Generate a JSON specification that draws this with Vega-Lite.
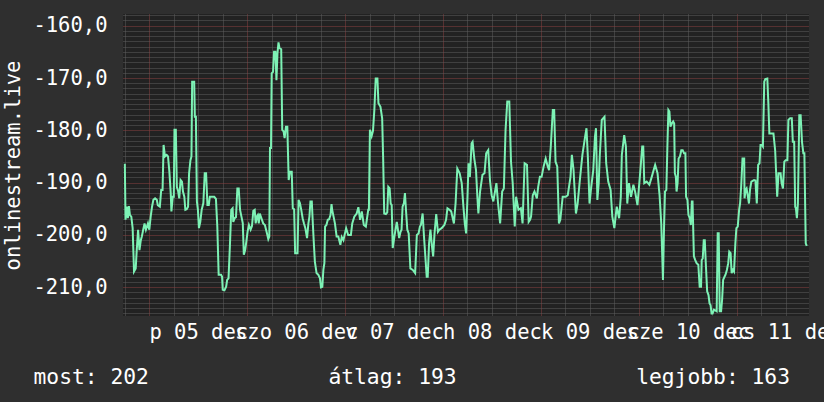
{
"$schema": "https://vega.github.io/schema/vega-lite/v6.json",
"width": 686, "height": 302,
"autosize": {"type": "none"},
"padding": {"left": 123, "top": 14, "right": 15, "bottom": 86},
"background": "#2f2f2f",
"config": {
  "view": {"fill": "#222222", "stroke": null},
  "axis": {"labelFont": "DejaVu Sans Mono", "titleFont": "DejaVu Sans Mono", "labelColor": "#ffffff", "titleColor": "#ffffff", "titleFontWeight": "normal", "gridColor": "#5f5f5f", "gridDash": [1, 1], "ticks": false, "domain": false, "labelOverlap": false, "labelFlush": false}
},
"data": {"values": [
{"t":"2025-12-04T18:00Z","v":-186.4},{"t":"2025-12-04T18:10Z","v":-197.1},{"t":"2025-12-04T18:30Z","v":-194.6},{"t":"2025-12-04T18:45Z","v":-196.8},{"t":"2025-12-04T19:00Z","v":-194.5},{"t":"2025-12-04T19:15Z","v":-196.2},{"t":"2025-12-04T19:35Z","v":-196.5},{"t":"2025-12-04T19:55Z","v":-198.7},{"t":"2025-12-04T20:15Z","v":-207.0},{"t":"2025-12-04T20:40Z","v":-206.4},{"t":"2025-12-04T20:55Z","v":-202.9},{"t":"2025-12-04T21:15Z","v":-199.0},{"t":"2025-12-04T21:35Z","v":-202.9},{"t":"2025-12-04T21:55Z","v":-201.0},{"t":"2025-12-04T22:10Z","v":-200.3},{"t":"2025-12-04T22:30Z","v":-199.0},{"t":"2025-12-04T22:50Z","v":-197.8},{"t":"2025-12-04T23:10Z","v":-199.0},{"t":"2025-12-04T23:40Z","v":-197.8},
{"t":"2025-12-05T00:00Z","v":-199.0},{"t":"2025-12-05T00:20Z","v":-196.5},{"t":"2025-12-05T00:40Z","v":-194.6},{"t":"2025-12-05T01:00Z","v":-193.3},{"t":"2025-12-05T01:25Z","v":-193.0},{"t":"2025-12-05T01:50Z","v":-193.3},{"t":"2025-12-05T02:05Z","v":-194.3},{"t":"2025-12-05T02:35Z","v":-194.6},{"t":"2025-12-05T02:55Z","v":-191.4},{"t":"2025-12-05T03:15Z","v":-191.4},{"t":"2025-12-05T03:30Z","v":-182.8},{"t":"2025-12-05T03:50Z","v":-185.0},{"t":"2025-12-05T04:15Z","v":-184.7},{"t":"2025-12-05T04:35Z","v":-185.0},{"t":"2025-12-05T04:55Z","v":-187.9},{"t":"2025-12-05T05:15Z","v":-192.0},{"t":"2025-12-05T05:25Z","v":-195.5},{"t":"2025-12-05T05:45Z","v":-192.7},{"t":"2025-12-05T06:00Z","v":-192.7},{"t":"2025-12-05T06:10Z","v":-179.9},{"t":"2025-12-05T06:30Z","v":-179.9},{"t":"2025-12-05T06:45Z","v":-190.8},{"t":"2025-12-05T07:05Z","v":-191.7},{"t":"2025-12-05T07:20Z","v":-193.0},{"t":"2025-12-05T07:40Z","v":-189.5},{"t":"2025-12-05T08:00Z","v":-189.8},{"t":"2025-12-05T08:15Z","v":-191.7},{"t":"2025-12-05T08:35Z","v":-192.7},{"t":"2025-12-05T08:50Z","v":-195.2},{"t":"2025-12-05T09:10Z","v":-195.1},{"t":"2025-12-05T09:30Z","v":-194.6},{"t":"2025-12-05T09:45Z","v":-188.2},{"t":"2025-12-05T10:05Z","v":-185.7},{"t":"2025-12-05T10:20Z","v":-185.0},{"t":"2025-12-05T10:30Z","v":-170.7},{"t":"2025-12-05T11:00Z","v":-170.7},{"t":"2025-12-05T11:10Z","v":-177.4},{"t":"2025-12-05T11:25Z","v":-177.4},{"t":"2025-12-05T11:40Z","v":-193.6},{"t":"2025-12-05T11:55Z","v":-195.2},{"t":"2025-12-05T12:10Z","v":-198.7},{"t":"2025-12-05T12:30Z","v":-197.5},{"t":"2025-12-05T12:50Z","v":-195.2},{"t":"2025-12-05T13:15Z","v":-193.9},{"t":"2025-12-05T13:35Z","v":-188.2},{"t":"2025-12-05T13:55Z","v":-188.2},{"t":"2025-12-05T14:15Z","v":-194.3},{"t":"2025-12-05T14:35Z","v":-194.3},{"t":"2025-12-05T14:50Z","v":-192.7},{"t":"2025-12-05T15:55Z","v":-192.7},{"t":"2025-12-05T16:20Z","v":-193.1},{"t":"2025-12-05T16:40Z","v":-198.4},{"t":"2025-12-05T17:00Z","v":-207.6},{"t":"2025-12-05T17:35Z","v":-207.6},{"t":"2025-12-05T17:50Z","v":-208.0},{"t":"2025-12-05T18:00Z","v":-210.5},{"t":"2025-12-05T18:25Z","v":-210.6},{"t":"2025-12-05T18:50Z","v":-209.9},{"t":"2025-12-05T19:05Z","v":-208.6},{"t":"2025-12-05T19:25Z","v":-208.3},{"t":"2025-12-05T19:45Z","v":-202.2},{"t":"2025-12-05T20:05Z","v":-195.2},{"t":"2025-12-05T20:25Z","v":-194.9},{"t":"2025-12-05T20:35Z","v":-197.5},{"t":"2025-12-05T20:55Z","v":-196.8},{"t":"2025-12-05T21:15Z","v":-196.6},{"t":"2025-12-05T21:35Z","v":-191.1},{"t":"2025-12-05T21:55Z","v":-191.1},{"t":"2025-12-05T22:15Z","v":-195.2},{"t":"2025-12-05T22:35Z","v":-196.5},{"t":"2025-12-05T22:55Z","v":-197.8},{"t":"2025-12-05T23:10Z","v":-203.8},{"t":"2025-12-05T23:30Z","v":-202.9},{"t":"2025-12-05T23:50Z","v":-201.0},
{"t":"2025-12-06T00:05Z","v":-199.4},{"t":"2025-12-06T00:25Z","v":-198.1},{"t":"2025-12-06T00:50Z","v":-199.0},{"t":"2025-12-06T01:10Z","v":-198.3},{"t":"2025-12-06T01:30Z","v":-195.4},{"t":"2025-12-06T01:50Z","v":-195.2},{"t":"2025-12-06T02:05Z","v":-197.8},{"t":"2025-12-06T02:20Z","v":-196.5},{"t":"2025-12-06T02:35Z","v":-196.2},{"t":"2025-12-06T02:50Z","v":-197.8},{"t":"2025-12-06T03:05Z","v":-195.9},{"t":"2025-12-06T03:55Z","v":-197.8},{"t":"2025-12-06T04:20Z","v":-198.1},{"t":"2025-12-06T04:45Z","v":-199.4},{"t":"2025-12-06T05:10Z","v":-200.8},{"t":"2025-12-06T05:25Z","v":-200.3},{"t":"2025-12-06T05:35Z","v":-183.4},{"t":"2025-12-06T05:50Z","v":-183.4},{"t":"2025-12-06T06:00Z","v":-169.1},{"t":"2025-12-06T06:20Z","v":-168.8},{"t":"2025-12-06T06:35Z","v":-165.0},{"t":"2025-12-06T06:55Z","v":-165.0},{"t":"2025-12-06T07:10Z","v":-170.4},{"t":"2025-12-06T07:25Z","v":-165.3},{"t":"2025-12-06T07:40Z","v":-163.2},{"t":"2025-12-06T07:55Z","v":-164.3},{"t":"2025-12-06T08:20Z","v":-164.5},{"t":"2025-12-06T08:35Z","v":-179.9},{"t":"2025-12-06T08:55Z","v":-180.2},{"t":"2025-12-06T09:10Z","v":-181.5},{"t":"2025-12-06T09:30Z","v":-179.3},{"t":"2025-12-06T09:50Z","v":-179.3},{"t":"2025-12-06T10:10Z","v":-189.5},{"t":"2025-12-06T10:30Z","v":-187.9},{"t":"2025-12-06T10:55Z","v":-187.9},{"t":"2025-12-06T11:10Z","v":-194.9},{"t":"2025-12-06T11:30Z","v":-195.1},{"t":"2025-12-06T11:45Z","v":-203.5},{"t":"2025-12-06T12:20Z","v":-203.5},{"t":"2025-12-06T12:35Z","v":-193.3},{"t":"2025-12-06T12:55Z","v":-193.9},{"t":"2025-12-06T13:15Z","v":-195.2},{"t":"2025-12-06T13:35Z","v":-196.8},{"t":"2025-12-06T13:55Z","v":-197.8},{"t":"2025-12-06T14:15Z","v":-198.7},{"t":"2025-12-06T14:40Z","v":-200.6},{"t":"2025-12-06T15:00Z","v":-197.8},{"t":"2025-12-06T15:15Z","v":-196.5},{"t":"2025-12-06T15:30Z","v":-193.6},{"t":"2025-12-06T15:50Z","v":-193.6},{"t":"2025-12-06T16:05Z","v":-197.8},{"t":"2025-12-06T16:20Z","v":-201.6},{"t":"2025-12-06T16:35Z","v":-205.1},{"t":"2025-12-06T17:00Z","v":-207.3},{"t":"2025-12-06T17:25Z","v":-207.6},{"t":"2025-12-06T17:50Z","v":-208.3},{"t":"2025-12-06T18:05Z","v":-210.0},{"t":"2025-12-06T18:25Z","v":-209.9},{"t":"2025-12-06T18:40Z","v":-206.7},{"t":"2025-12-06T18:55Z","v":-205.4},{"t":"2025-12-06T19:05Z","v":-198.4},{"t":"2025-12-06T19:25Z","v":-198.1},{"t":"2025-12-06T19:45Z","v":-197.1},{"t":"2025-12-06T20:05Z","v":-197.0},{"t":"2025-12-06T20:25Z","v":-196.2},{"t":"2025-12-06T20:40Z","v":-194.1},{"t":"2025-12-06T20:50Z","v":-195.2},{"t":"2025-12-06T21:10Z","v":-196.5},{"t":"2025-12-06T21:30Z","v":-197.8},{"t":"2025-12-06T21:55Z","v":-200.3},{"t":"2025-12-06T22:20Z","v":-200.3},{"t":"2025-12-06T22:50Z","v":-201.9},{"t":"2025-12-06T23:10Z","v":-200.4},{"t":"2025-12-06T23:35Z","v":-201.0},
{"t":"2025-12-07T00:15Z","v":-198.7},{"t":"2025-12-07T00:45Z","v":-200.0},{"t":"2025-12-07T01:25Z","v":-200.0},{"t":"2025-12-07T01:45Z","v":-197.8},{"t":"2025-12-07T02:15Z","v":-196.5},{"t":"2025-12-07T02:50Z","v":-195.9},{"t":"2025-12-07T03:15Z","v":-194.7},{"t":"2025-12-07T03:40Z","v":-197.1},{"t":"2025-12-07T04:05Z","v":-195.5},{"t":"2025-12-07T04:35Z","v":-198.1},{"t":"2025-12-07T05:05Z","v":-198.4},{"t":"2025-12-07T05:40Z","v":-195.2},{"t":"2025-12-07T05:50Z","v":-195.2},{"t":"2025-12-07T06:05Z","v":-179.9},{"t":"2025-12-07T06:30Z","v":-181.1},{"t":"2025-12-07T06:50Z","v":-180.1},{"t":"2025-12-07T07:10Z","v":-176.1},{"t":"2025-12-07T07:30Z","v":-170.1},{"t":"2025-12-07T07:55Z","v":-170.1},{"t":"2025-12-07T08:10Z","v":-174.8},{"t":"2025-12-07T08:40Z","v":-175.5},{"t":"2025-12-07T09:05Z","v":-177.7},{"t":"2025-12-07T09:20Z","v":-185.7},{"t":"2025-12-07T09:35Z","v":-195.9},{"t":"2025-12-07T10:00Z","v":-196.0},{"t":"2025-12-07T10:20Z","v":-195.7},{"t":"2025-12-07T10:35Z","v":-190.8},{"t":"2025-12-07T10:55Z","v":-191.1},{"t":"2025-12-07T11:10Z","v":-194.0},{"t":"2025-12-07T11:25Z","v":-194.3},{"t":"2025-12-07T11:40Z","v":-202.5},{"t":"2025-12-07T12:05Z","v":-200.3},{"t":"2025-12-07T12:40Z","v":-197.5},{"t":"2025-12-07T13:15Z","v":-200.6},{"t":"2025-12-07T13:35Z","v":-199.4},{"t":"2025-12-07T13:50Z","v":-199.0},{"t":"2025-12-07T14:05Z","v":-194.6},{"t":"2025-12-07T14:25Z","v":-193.9},{"t":"2025-12-07T14:40Z","v":-192.0},{"t":"2025-12-07T14:55Z","v":-195.2},{"t":"2025-12-07T15:15Z","v":-199.0},{"t":"2025-12-07T15:35Z","v":-199.7},{"t":"2025-12-07T16:00Z","v":-206.4},{"t":"2025-12-07T16:35Z","v":-206.7},{"t":"2025-12-07T17:10Z","v":-207.3},{"t":"2025-12-07T17:35Z","v":-200.0},{"t":"2025-12-07T18:00Z","v":-199.7},{"t":"2025-12-07T18:20Z","v":-198.4},{"t":"2025-12-07T18:35Z","v":-198.1},{"t":"2025-12-07T19:00Z","v":-195.9},{"t":"2025-12-07T19:20Z","v":-200.3},{"t":"2025-12-07T19:40Z","v":-204.1},{"t":"2025-12-07T20:00Z","v":-208.0},{"t":"2025-12-07T20:15Z","v":-208.0},{"t":"2025-12-07T20:35Z","v":-201.6},{"t":"2025-12-07T20:55Z","v":-199.0},{"t":"2025-12-07T21:15Z","v":-201.9},{"t":"2025-12-07T21:35Z","v":-204.1},{"t":"2025-12-07T21:55Z","v":-199.7},{"t":"2025-12-07T22:20Z","v":-196.0},{"t":"2025-12-07T22:45Z","v":-199.4},{"t":"2025-12-07T23:05Z","v":-199.0},{"t":"2025-12-07T23:40Z","v":-198.7},
{"t":"2025-12-08T00:20Z","v":-198.1},{"t":"2025-12-08T00:45Z","v":-197.1},{"t":"2025-12-08T01:05Z","v":-194.9},{"t":"2025-12-08T01:35Z","v":-195.2},{"t":"2025-12-08T02:00Z","v":-195.5},{"t":"2025-12-08T02:40Z","v":-197.8},{"t":"2025-12-08T03:05Z","v":-193.9},{"t":"2025-12-08T03:30Z","v":-187.3},{"t":"2025-12-08T04:05Z","v":-188.2},{"t":"2025-12-08T04:35Z","v":-190.1},{"t":"2025-12-08T05:00Z","v":-194.6},{"t":"2025-12-08T05:20Z","v":-197.8},{"t":"2025-12-08T05:40Z","v":-199.7},{"t":"2025-12-08T06:00Z","v":-192.7},{"t":"2025-12-08T06:15Z","v":-186.3},{"t":"2025-12-08T06:35Z","v":-188.9},{"t":"2025-12-08T07:00Z","v":-182.5},{"t":"2025-12-08T07:15Z","v":-182.2},{"t":"2025-12-08T07:40Z","v":-185.4},{"t":"2025-12-08T08:05Z","v":-187.6},{"t":"2025-12-08T08:25Z","v":-192.7},{"t":"2025-12-08T08:40Z","v":-195.9},{"t":"2025-12-08T09:05Z","v":-191.7},{"t":"2025-12-08T09:40Z","v":-188.5},{"t":"2025-12-08T10:10Z","v":-188.2},{"t":"2025-12-08T10:35Z","v":-184.4},{"t":"2025-12-08T11:05Z","v":-183.8},{"t":"2025-12-08T11:30Z","v":-189.5},{"t":"2025-12-08T11:55Z","v":-192.4},{"t":"2025-12-08T12:20Z","v":-193.6},{"t":"2025-12-08T12:45Z","v":-191.7},{"t":"2025-12-08T13:05Z","v":-190.1},{"t":"2025-12-08T13:30Z","v":-194.0},{"t":"2025-12-08T14:00Z","v":-197.8},{"t":"2025-12-08T14:30Z","v":-191.7},{"t":"2025-12-08T14:55Z","v":-191.1},{"t":"2025-12-08T15:20Z","v":-179.9},{"t":"2025-12-08T15:45Z","v":-174.5},{"t":"2025-12-08T16:15Z","v":-174.5},{"t":"2025-12-08T16:40Z","v":-186.0},{"t":"2025-12-08T17:05Z","v":-190.1},{"t":"2025-12-08T17:35Z","v":-198.4},{"t":"2025-12-08T17:55Z","v":-192.7},{"t":"2025-12-08T18:30Z","v":-195.2},{"t":"2025-12-08T19:05Z","v":-194.9},{"t":"2025-12-08T19:30Z","v":-197.8},{"t":"2025-12-08T20:00Z","v":-186.3},{"t":"2025-12-08T20:35Z","v":-186.6},{"t":"2025-12-08T21:00Z","v":-197.5},{"t":"2025-12-08T21:20Z","v":-197.1},{"t":"2025-12-08T21:35Z","v":-196.5},{"t":"2025-12-08T22:00Z","v":-192.4},{"t":"2025-12-08T22:25Z","v":-191.7},{"t":"2025-12-08T23:00Z","v":-193.0},{"t":"2025-12-08T23:20Z","v":-190.8},{"t":"2025-12-08T23:45Z","v":-188.9},
{"t":"2025-12-09T00:10Z","v":-188.9},{"t":"2025-12-09T00:40Z","v":-186.9},{"t":"2025-12-09T01:10Z","v":-185.4},{"t":"2025-12-09T01:40Z","v":-186.9},{"t":"2025-12-09T02:00Z","v":-187.6},{"t":"2025-12-09T02:25Z","v":-183.1},{"t":"2025-12-09T02:55Z","v":-176.1},{"t":"2025-12-09T03:15Z","v":-176.1},{"t":"2025-12-09T03:35Z","v":-186.0},{"t":"2025-12-09T04:00Z","v":-186.9},{"t":"2025-12-09T04:25Z","v":-197.8},{"t":"2025-12-09T04:45Z","v":-197.1},{"t":"2025-12-09T05:20Z","v":-192.7},{"t":"2025-12-09T06:05Z","v":-192.7},{"t":"2025-12-09T06:35Z","v":-192.4},{"t":"2025-12-09T07:15Z","v":-188.9},{"t":"2025-12-09T07:35Z","v":-184.7},{"t":"2025-12-09T08:00Z","v":-187.6},{"t":"2025-12-09T08:10Z","v":-190.1},{"t":"2025-12-09T08:35Z","v":-195.9},{"t":"2025-12-09T09:00Z","v":-194.0},{"t":"2025-12-09T09:35Z","v":-189.2},{"t":"2025-12-09T10:10Z","v":-184.7},{"t":"2025-12-09T10:50Z","v":-181.2},{"t":"2025-12-09T11:10Z","v":-179.6},{"t":"2025-12-09T11:30Z","v":-185.0},{"t":"2025-12-09T11:55Z","v":-194.0},{"t":"2025-12-09T12:15Z","v":-191.4},{"t":"2025-12-09T12:50Z","v":-187.6},{"t":"2025-12-09T13:15Z","v":-181.2},{"t":"2025-12-09T13:30Z","v":-179.6},{"t":"2025-12-09T13:50Z","v":-193.3},{"t":"2025-12-09T14:10Z","v":-190.1},{"t":"2025-12-09T14:25Z","v":-185.0},{"t":"2025-12-09T14:55Z","v":-178.0},{"t":"2025-12-09T15:35Z","v":-177.4},{"t":"2025-12-09T16:00Z","v":-186.3},{"t":"2025-12-09T16:30Z","v":-189.8},{"t":"2025-12-09T17:05Z","v":-191.4},{"t":"2025-12-09T17:30Z","v":-196.5},{"t":"2025-12-09T18:00Z","v":-198.7},{"t":"2025-12-09T18:35Z","v":-194.6},{"t":"2025-12-09T19:10Z","v":-196.8},{"t":"2025-12-09T19:35Z","v":-192.7},{"t":"2025-12-09T19:50Z","v":-184.7},{"t":"2025-12-09T20:25Z","v":-180.9},{"t":"2025-12-09T20:50Z","v":-183.1},{"t":"2025-12-09T21:10Z","v":-194.0},{"t":"2025-12-09T21:35Z","v":-190.1},{"t":"2025-12-09T22:05Z","v":-192.7},{"t":"2025-12-09T22:40Z","v":-190.4},{"t":"2025-12-09T23:05Z","v":-191.7},{"t":"2025-12-09T23:40Z","v":-194.3},
{"t":"2025-12-10T00:15Z","v":-188.9},{"t":"2025-12-10T00:50Z","v":-183.1},{"t":"2025-12-10T01:05Z","v":-183.1},{"t":"2025-12-10T01:20Z","v":-190.1},{"t":"2025-12-10T01:55Z","v":-189.8},{"t":"2025-12-10T02:35Z","v":-190.4},{"t":"2025-12-10T03:10Z","v":-188.9},{"t":"2025-12-10T04:00Z","v":-186.6},{"t":"2025-12-10T04:35Z","v":-188.2},{"t":"2025-12-10T05:05Z","v":-192.4},{"t":"2025-12-10T05:30Z","v":-197.8},{"t":"2025-12-10T05:55Z","v":-208.6},{"t":"2025-12-10T06:10Z","v":-199.0},{"t":"2025-12-10T06:25Z","v":-191.7},{"t":"2025-12-10T06:45Z","v":-191.4},{"t":"2025-12-10T07:00Z","v":-183.1},{"t":"2025-12-10T07:15Z","v":-176.1},{"t":"2025-12-10T07:30Z","v":-176.4},{"t":"2025-12-10T07:45Z","v":-179.3},{"t":"2025-12-10T08:05Z","v":-178.7},{"t":"2025-12-10T08:25Z","v":-178.3},{"t":"2025-12-10T08:40Z","v":-178.7},{"t":"2025-12-10T08:50Z","v":-188.2},{"t":"2025-12-10T09:05Z","v":-188.9},{"t":"2025-12-10T09:15Z","v":-191.7},{"t":"2025-12-10T09:30Z","v":-190.1},{"t":"2025-12-10T09:45Z","v":-185.4},{"t":"2025-12-10T10:05Z","v":-185.0},{"t":"2025-12-10T10:25Z","v":-183.8},{"t":"2025-12-10T10:45Z","v":-183.8},{"t":"2025-12-10T11:05Z","v":-184.4},{"t":"2025-12-10T11:25Z","v":-184.4},{"t":"2025-12-10T11:35Z","v":-192.7},{"t":"2025-12-10T11:55Z","v":-193.3},{"t":"2025-12-10T12:10Z","v":-196.2},{"t":"2025-12-10T12:30Z","v":-196.8},{"t":"2025-12-10T12:45Z","v":-198.1},{"t":"2025-12-10T13:00Z","v":-193.6},{"t":"2025-12-10T13:10Z","v":-193.6},{"t":"2025-12-10T13:30Z","v":-204.1},{"t":"2025-12-10T13:50Z","v":-204.8},{"t":"2025-12-10T14:10Z","v":-205.4},{"t":"2025-12-10T14:35Z","v":-205.7},{"t":"2025-12-10T14:55Z","v":-209.9},{"t":"2025-12-10T15:15Z","v":-209.9},{"t":"2025-12-10T15:25Z","v":-204.8},{"t":"2025-12-10T15:40Z","v":-204.5},{"t":"2025-12-10T15:55Z","v":-201.0},{"t":"2025-12-10T16:10Z","v":-201.0},{"t":"2025-12-10T16:25Z","v":-205.4},{"t":"2025-12-10T16:45Z","v":-210.8},{"t":"2025-12-10T17:05Z","v":-211.5},{"t":"2025-12-10T17:20Z","v":-213.1},{"t":"2025-12-10T17:35Z","v":-213.4},{"t":"2025-12-10T17:50Z","v":-215.0},{"t":"2025-12-10T18:05Z","v":-215.0},{"t":"2025-12-10T18:25Z","v":-214.3},{"t":"2025-12-10T19:05Z","v":-214.6},{"t":"2025-12-10T19:20Z","v":-199.7},{"t":"2025-12-10T19:35Z","v":-199.7},{"t":"2025-12-10T19:50Z","v":-214.6},{"t":"2025-12-10T20:10Z","v":-214.6},{"t":"2025-12-10T20:25Z","v":-212.4},{"t":"2025-12-10T20:40Z","v":-208.6},{"t":"2025-12-10T21:00Z","v":-208.0},{"t":"2025-12-10T21:15Z","v":-207.6},{"t":"2025-12-10T21:35Z","v":-206.7},{"t":"2025-12-10T21:55Z","v":-205.4},{"t":"2025-12-10T22:10Z","v":-203.2},{"t":"2025-12-10T22:30Z","v":-203.5},{"t":"2025-12-10T22:45Z","v":-207.3},{"t":"2025-12-10T23:05Z","v":-206.7},{"t":"2025-12-10T23:20Z","v":-207.0},{"t":"2025-12-10T23:40Z","v":-201.6},{"t":"2025-12-10T23:55Z","v":-198.7},
{"t":"2025-12-11T00:15Z","v":-198.4},{"t":"2025-12-11T00:35Z","v":-195.2},{"t":"2025-12-11T00:50Z","v":-193.9},{"t":"2025-12-11T01:05Z","v":-190.8},{"t":"2025-12-11T01:25Z","v":-185.4},{"t":"2025-12-11T01:50Z","v":-185.4},{"t":"2025-12-11T01:55Z","v":-193.0},{"t":"2025-12-11T02:10Z","v":-191.4},{"t":"2025-12-11T02:25Z","v":-191.1},{"t":"2025-12-11T02:45Z","v":-192.7},{"t":"2025-12-11T03:00Z","v":-194.0},{"t":"2025-12-11T03:15Z","v":-191.4},{"t":"2025-12-11T03:35Z","v":-189.8},{"t":"2025-12-11T04:15Z","v":-189.5},{"t":"2025-12-11T04:35Z","v":-189.6},{"t":"2025-12-11T04:55Z","v":-194.0},{"t":"2025-12-11T05:15Z","v":-186.6},{"t":"2025-12-11T05:35Z","v":-186.3},{"t":"2025-12-11T05:50Z","v":-182.8},{"t":"2025-12-11T06:10Z","v":-182.8},{"t":"2025-12-11T06:25Z","v":-183.1},{"t":"2025-12-11T06:45Z","v":-170.7},{"t":"2025-12-11T07:00Z","v":-170.2},{"t":"2025-12-11T07:30Z","v":-170.1},{"t":"2025-12-11T07:45Z","v":-174.8},{"t":"2025-12-11T08:00Z","v":-180.6},{"t":"2025-12-11T09:00Z","v":-180.6},{"t":"2025-12-11T09:25Z","v":-183.8},{"t":"2025-12-11T09:40Z","v":-188.2},{"t":"2025-12-11T09:55Z","v":-192.7},{"t":"2025-12-11T10:15Z","v":-188.2},{"t":"2025-12-11T10:45Z","v":-188.2},{"t":"2025-12-11T11:00Z","v":-190.1},{"t":"2025-12-11T11:20Z","v":-191.1},{"t":"2025-12-11T11:40Z","v":-186.0},{"t":"2025-12-11T12:00Z","v":-185.7},{"t":"2025-12-11T12:25Z","v":-185.7},{"t":"2025-12-11T12:40Z","v":-178.0},{"t":"2025-12-11T13:05Z","v":-177.7},{"t":"2025-12-11T13:30Z","v":-177.7},{"t":"2025-12-11T13:45Z","v":-182.2},{"t":"2025-12-11T14:05Z","v":-182.2},{"t":"2025-12-11T14:20Z","v":-194.6},{"t":"2025-12-11T14:30Z","v":-194.9},{"t":"2025-12-11T14:45Z","v":-196.8},{"t":"2025-12-11T15:00Z","v":-194.0},{"t":"2025-12-11T15:20Z","v":-177.1},{"t":"2025-12-11T15:40Z","v":-177.1},{"t":"2025-12-11T16:00Z","v":-182.2},{"t":"2025-12-11T16:20Z","v":-184.4},{"t":"2025-12-11T16:35Z","v":-184.4},{"t":"2025-12-11T16:55Z","v":-201.6},{"t":"2025-12-11T17:10Z","v":-202.1}
]},
"mark": {"type": "line", "color": "#7df2b5", "strokeWidth": 2},
"encoding": {
  "x": {"field": "t", "type": "temporal",
    "scale": {"type": "utc", "domain": [1764869580000, 1765474980000]},
    "axis": {
      "values": [1764871200000,1764892800000,1764914400000,1764936000000,1764957600000,1764979200000,1765000800000,1765022400000,1765044000000,1765065600000,1765087200000,1765108800000,1765130400000,1765152000000,1765173600000,1765195200000,1765216800000,1765238400000,1765260000000,1765281600000,1765303200000,1765324800000,1765346400000,1765368000000,1765389600000,1765411200000,1765432800000,1765454400000],
      "gridColor": {"condition": {"test": "utchours(datum.value) == 0", "value": "#8a4040"}, "value": "#5f5f5f"},
      "labelExpr": "utchours(datum.value) != 12 ? '' : (utcday(datum.value) == 0 ? 'v' : utcday(datum.value) == 1 ? 'h' : utcday(datum.value) == 2 ? 'k' : utcday(datum.value) == 3 ? 'sze' : utcday(datum.value) == 4 ? 'cs' : utcday(datum.value) == 5 ? 'p' : 'szo') + ' ' + utcFormat(datum.value, '%d') + ' dec'",
      "labelFontSize": 20.5, "labelPadding": 6,
      "title": "most: 202\u00a0\u00a0\u00a0\u00a0\u00a0\u00a0\u00a0\u00a0\u00a0\u00a0\u00a0\u00a0\u00a0\u00a0átlag: 193\u00a0\u00a0\u00a0\u00a0\u00a0\u00a0\u00a0\u00a0\u00a0\u00a0\u00a0\u00a0\u00a0\u00a0legjobb: 163",
      "titleFontSize": 21.3, "titleAnchor": "start", "titleAlign": "left", "titleBaseline": "alphabetic", "titleX": -90, "titleY": 67
    }
  },
  "y": {"field": "v", "type": "quantitative",
    "scale": {"domain": [-215.5, -157.76], "nice": false, "zero": false},
    "axis": {
      "values": [-215,-214,-213,-212,-211,-210,-209,-208,-207,-206,-205,-204,-203,-202,-201,-200,-199,-198,-197,-196,-195,-194,-193,-192,-191,-190,-189,-188,-187,-186,-185,-184,-183,-182,-181,-180,-179,-178,-177,-176,-175,-174,-173,-172,-171,-170,-169,-168,-167,-166,-165,-164,-163,-162,-161,-160,-159,-158],
      "gridColor": {"condition": {"test": "datum.value % 10 == 0", "value": "#8a4040"}, "value": "#5f5f5f"},
      "labelExpr": "datum.value % 10 == 0 ? datum.value + ',0' : ''",
      "labelFontSize": 20.5, "labelPadding": 16,
      "title": "onlinestream.live", "titleFontSize": 20.5, "titleAngle": -90, "titleAlign": "center", "titleBaseline": "alphabetic", "titleX": -103.5, "titleY": 151
    }
  }
}
}
